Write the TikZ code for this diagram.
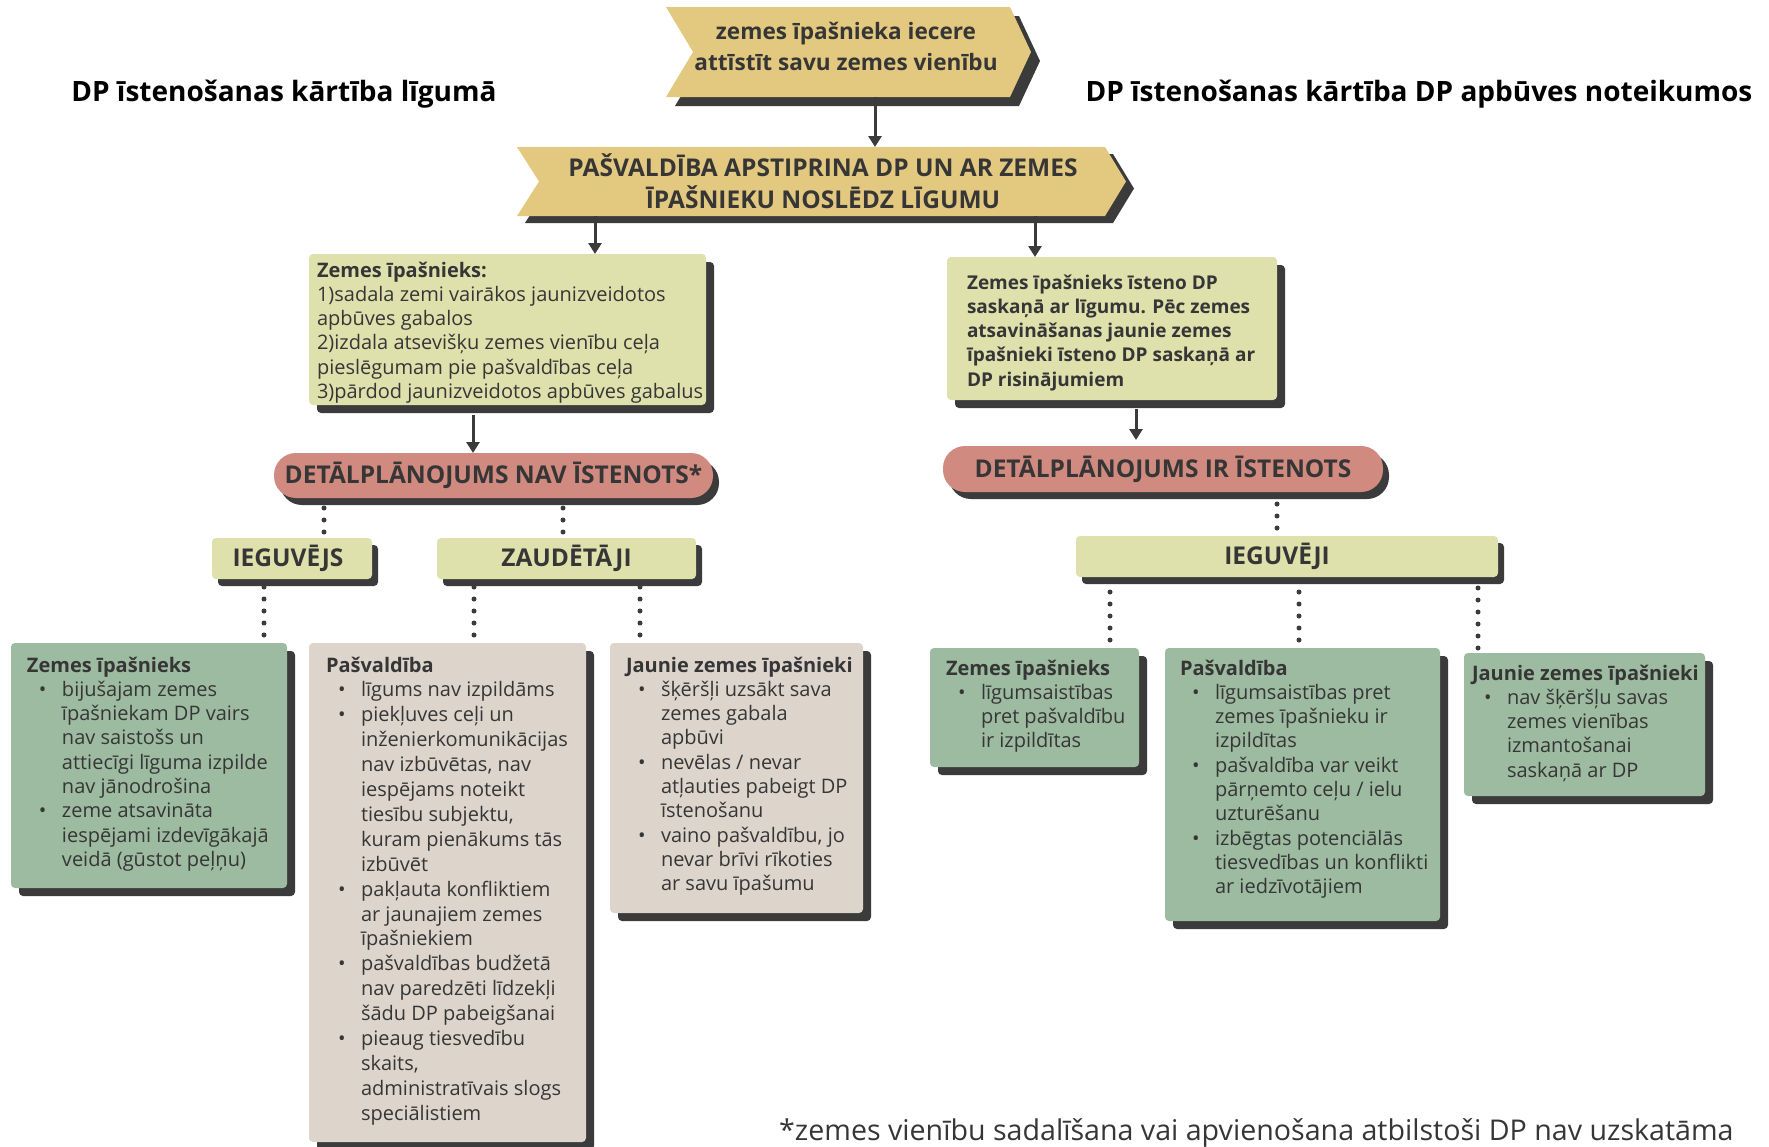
\documentclass[tikz,border=0pt]{standalone}
\usepackage{fontspec}
\setmainfont{Open Sans}
\usetikzlibrary{arrows.meta,shadows,calc,backgrounds}
\definecolor{gold}{HTML}{E3C97F}
\definecolor{olive}{HTML}{DEE1AC}
\definecolor{redp}{HTML}{D08A7F}
\definecolor{greenb}{HTML}{9DBBA0}
\definecolor{beige}{HTML}{DDD5CC}
\definecolor{shadowc}{HTML}{3B3B3B}
\definecolor{textc}{HTML}{363636}
\newcommand{\fsz}[2]{\fontsize{#1}{#2}\selectfont}
\newcommand{\blt}{\hspace*{12pt}\makebox[23pt][l]{\textbullet}}
\newcommand{\bct}{\hspace*{35pt}}
\newcommand{\chevpath}[4]{($(#1.north west)+(#4)$) -- ($(#1.north east)+(#4)$) -- ($(#1.east)+(#2,0)+(#4)$) -- ($(#1.south east)+(#4)$) -- ($(#1.south west)+(#4)$) -- ($(#1.west)+(#3,0)+(#4)$) -- cycle}
\begin{document}
\begin{tikzpicture}[x=1pt,y=-1pt,
  boxbase/.style={anchor=north west, inner sep=0pt, outer sep=0pt, rounded corners=4pt},
  bigshadow/.style={drop shadow={shadow xshift=8pt,shadow yshift=-8pt,opacity=1,fill=shadowc}},
  smallshadow/.style={drop shadow={shadow xshift=6pt,shadow yshift=-7pt,opacity=1,fill=shadowc}},
  lab/.style={boxbase, smallshadow, fill=olive, text=textc, font=\bfseries\fsz{24.5}{28}},
  pill/.style={boxbase, smallshadow, rounded corners=22pt, fill=redp, text=textc, font=\bfseries\fsz{24.5}{28}},
  txt/.style={anchor=north west, inner sep=0pt, outer sep=0pt, align=left, text=textc, font=\fsz{20}{24.3}},
  chevbody/.style={inner sep=0pt, outer sep=0pt},
  chevtxt/.style={align=center, inner sep=0pt, outer sep=0pt, text=textc},
  arr/.style={draw=shadowc, line width=3pt, -{Triangle[length=11pt,width=13pt]}},
  dots/.style={draw=shadowc, line width=5pt, line cap=round, dash pattern=on 0pt off 12pt}
]
\useasboundingbox (0,0) rectangle (1769,1146);

% headers
\node[font=\bfseries\fsz{28}{32}, text=black, inner sep=0pt] (h1) at (284,94) {DP īstenošanas kārtība līgumā};
\node[font=\bfseries\fsz{28}{32}, text=black, inner sep=0pt] (h2) at (1419,94) {DP īstenošanas kārtība DP apbūves noteikumos};

% chevrons
\node[chevbody, minimum width=344pt, minimum height=90pt] (c1) at (838,52) {};
\node[chevtxt, font=\bfseries\fsz{22.6}{31}] (c1t) at (846,46)
  {zemes īpašnieka iecere\\attīstīt savu zemes vienību};
\node[chevbody, minimum width=588pt, minimum height=69pt] (c2) at (811,181.5) {};
\node[chevtxt, font=\bfseries\fsz{24.5}{32}] (c2t) at (823,181.5)
  {PAŠVALDĪBA APSTIPRINA DP UN AR ZEMES\\ĪPAŠNIEKU NOSLĒDZ LĪGUMU};
\begin{pgfonlayer}{background}
  \fill[white] (0,0) rectangle (1769,1146);
  \fill[shadowc] \chevpath{c1}{21}{27}{9,9};
  \fill[gold] \chevpath{c1}{21}{27}{0,0};
  \fill[shadowc] \chevpath{c2}{21}{22}{8,7};
  \fill[gold] \chevpath{c2}{21}{22}{0,0};
\end{pgfonlayer}

% description boxes
\node[boxbase, bigshadow, fill=olive, minimum width=397pt, minimum height=151pt] (b1) at (309,254) {};
\node[txt] (t1) at (317,260) {\strut{\bfseries Zemes īpašnieks:}\\
1)sadala zemi vairākos jaunizveidotos\\
apbūves gabalos\\
2)izdala atsevišķu zemes vienību ceļa\\
pieslēgumam pie pašvaldības ceļa\\
3)pārdod jaunizveidotos apbūves gabalus};

\node[boxbase, bigshadow, fill=olive, minimum width=330pt, minimum height=143pt] (b2) at (947,257) {};
\node[txt, font=\bfseries\fsz{19}{24.3}] (t2) at (967,272) {\strut Zemes īpašnieks īsteno DP\\
saskaņā ar līgumu. Pēc zemes\\
atsavināšanas jaunie zemes\\
īpašnieki īsteno DP saskaņā ar\\
DP risinājumiem};

% pills
\node[pill, minimum width=439pt, minimum height=45pt] (p1) at (274,453) {DETĀLPLĀNOJUMS NAV ĪSTENOTS*};
\node[pill, minimum width=440pt, minimum height=46pt] (p2) at (943,446) {DETĀLPLĀNOJUMS IR ĪSTENOTS};

% labels
\node[lab, minimum width=160pt, minimum height=41pt] (g1) at (212,538) {\hspace*{-8pt}IEGUVĒJS};
\node[lab, minimum width=259pt, minimum height=41pt] (z1) at (437,538) {ZAUDĒTĀJI};
\node[lab, minimum width=422pt, minimum height=41pt] (g2) at (1076,536) {\hspace*{-20pt}IEGUVĒJI};

% lower boxes left
\node[boxbase, bigshadow, fill=greenb, minimum width=276pt, minimum height=245pt] (gl) at (11,643) {};
\node[txt] (tgl) at (27,655) {\strut{\bfseries Zemes īpašnieks}\\
\blt bijušajam zemes\\
\bct īpašniekam DP vairs\\
\bct nav saistošs un\\
\bct attiecīgi līguma izpilde\\
\bct nav jānodrošina\\
\blt zeme atsavināta\\
\bct iespējami izdevīgākajā\\
\bct veidā (gūstot peļņu)};

\node[boxbase, bigshadow, fill=beige, minimum width=277pt, minimum height=499pt] (bp) at (309,643) {};
\node[txt, font=\fsz{20}{24.9}] (tbp) at (326,654.6) {\strut{\bfseries Pašvaldība}\\
\blt līgums nav izpildāms\\
\blt piekļuves ceļi un\\
\bct inženierkomunikācijas\\
\bct nav izbūvētas, nav\\
\bct iespējams noteikt\\
\bct tiesību subjektu,\\
\bct kuram pienākums tās\\
\bct izbūvēt\\
\blt pakļauta konfliktiem\\
\bct ar jaunajiem zemes\\
\bct īpašniekiem\\
\blt pašvaldības budžetā\\
\bct nav paredzēti līdzekļi\\
\bct šādu DP pabeigšanai\\
\blt pieaug tiesvedību\\
\bct skaits,\\
\bct administratīvais slogs\\
\bct speciālistiem};

\node[boxbase, bigshadow, fill=beige, minimum width=253pt, minimum height=270pt] (bj) at (610,643) {};
\node[txt] (tbj) at (626,655) {\strut{\bfseries Jaunie zemes īpašnieki}\\
\blt šķēršļi uzsākt sava\\
\bct zemes gabala\\
\bct apbūvi\\
\blt nevēlas / nevar\\
\bct atļauties pabeigt DP\\
\bct īstenošanu\\
\blt vaino pašvaldību, jo\\
\bct nevar brīvi rīkoties\\
\bct ar savu īpašumu};

% lower boxes right
\node[boxbase, bigshadow, fill=greenb, minimum width=209pt, minimum height=119pt] (gr1) at (930,648) {};
\node[txt] (tgr1) at (946,658) {\strut{\bfseries Zemes īpašnieks}\\
\blt līgumsaistības\\
\bct pret pašvaldību\\
\bct ir izpildītas};

\node[boxbase, bigshadow, fill=greenb, minimum width=275pt, minimum height=273pt] (gr2) at (1165,648) {};
\node[txt] (tgr2) at (1180,658) {\strut{\bfseries Pašvaldība}\\
\blt līgumsaistības pret\\
\bct zemes īpašnieku ir\\
\bct izpildītas\\
\blt pašvaldība var veikt\\
\bct pārņemto ceļu / ielu\\
\bct uzturēšanu\\
\blt izbēgtas potenciālās\\
\bct tiesvedības un konflikti\\
\bct ar iedzīvotājiem};

\node[boxbase, bigshadow, fill=greenb, minimum width=241pt, minimum height=143pt] (gr3) at (1464,653) {};
\node[txt] (tgr3) at (1472,663) {\strut{\bfseries Jaunie zemes īpašnieki}\\
\blt nav šķēršļu savas\\
\bct zemes vienības\\
\bct izmantošanai\\
\bct saskaņā ar DP};

% footnote
\node[anchor=west, inner sep=0pt, text=textc, font=\fsz{28.6}{32}] (fn) at (779,1133) {*zemes vienību sadalīšana vai apvienošana atbilstoši DP nav uzskatāma};

% arrows
\draw[arr] ([xshift=37pt]c1.south) -- ([xshift=64pt]c2.north);
\draw[arr] ([xshift=-216pt]c2.south) -- ++(0,38);
\draw[arr] ([xshift=224pt]c2.south) -- ++(0,41);
\draw[arr] ([xshift=-34.5pt,yshift=-10pt]b1.south) -- ++(0,38);
\draw[arr] ([xshift=24pt,yshift=-9pt]b2.south) -- ++(0,31);

% dotted connectors
\draw[dots] ([xshift=-169.5pt,yshift=-10pt]p1.south) -- ++(0,24);
\draw[dots] ([xshift=69.5pt,yshift=-10pt]p1.south) -- ++(0,24);
\draw[dots] ([xshift=-28pt,yshift=-8pt]g1.south) -- ++(0,48);
\draw[dots] ([xshift=-92.5pt,yshift=-8pt]z1.south) -- ++(0,48);
\draw[dots] ([xshift=73.5pt,yshift=-8pt]z1.south) -- ++(0,48);
\draw[dots] ([xshift=114pt,yshift=-12pt]p2.south) -- ++(0,24.5);
\draw[dots] ([xshift=-177pt,yshift=-15pt]g2.south) -- ++(0,48);
\draw[dots] ([xshift=12pt,yshift=-15pt]g2.south) -- ++(0,48);
\draw[dots] ([xshift=191pt,yshift=-11pt]g2.south) -- ++(0,60);
\end{tikzpicture}
\end{document}
